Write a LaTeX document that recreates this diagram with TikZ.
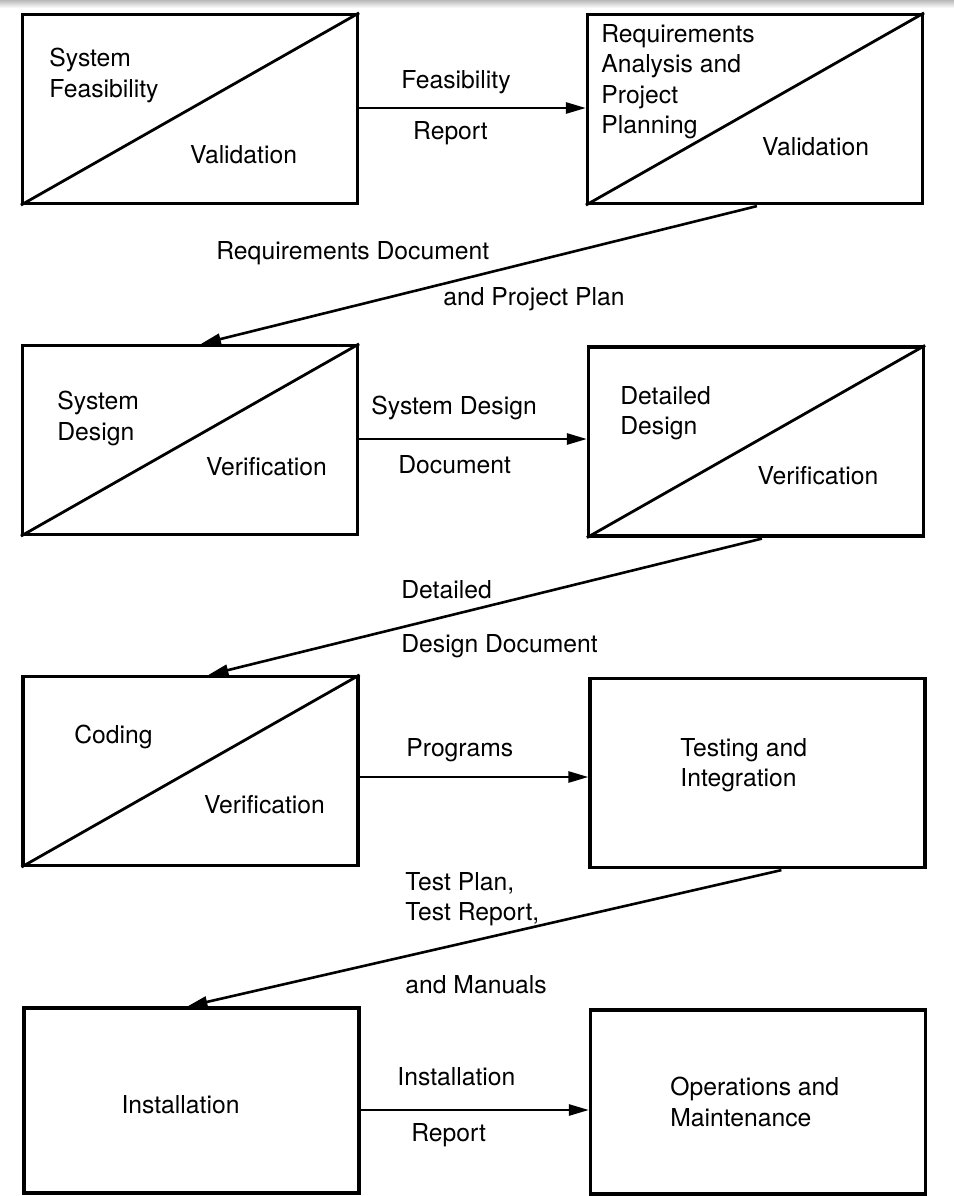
\documentclass[tikz,border=0pt]{standalone}
\usepackage{fontspec}
\setmainfont{TeX Gyre Heros}
\usetikzlibrary{arrows.meta,calc}
\begin{document}
\begin{tikzpicture}[x=0.5pt,y=-0.5pt,
  every node/.style={font=\fontsize{12.35}{15.2}\selectfont, inner sep=0pt},
  phase/.style={draw, line width=1.6pt, inner sep=0pt,
                minimum width=167.5pt, minimum height=94.5pt},
  split/.style={line width=1.4pt},
  flow/.style={line width=1.3pt, -{Triangle[length=10pt,width=5.5pt]}},
  lines/.style={align=left, anchor=north west}]

\useasboundingbox (0,0) rectangle (954,1196);
\shade[top color=gray!55, bottom color=white] (0,0) rectangle (954,8);

% phase boxes
\node[phase] (A) at (190,109)    {};
\node[phase] (B) at (755,109)    {};
\node[phase] (C) at (190,440)    {};
\node[phase] (D) at (756,441.5)  {};
\node[phase] (E) at (190.5,771)  {};
\node[phase] (F) at (757.5,773)  {};
\node[phase, minimum height=92.5pt] (G) at (191.5,1100.5) {};
\node[phase, minimum height=92pt]   (H) at (758,1102)     {};

% diagonal splits: activity above, check below
\foreach \b in {A,B,C,D,E}
  \draw[split] (\b.south west) -- (\b.north east);

% box texts
\node[lines] (a1) at (49,48)   {System\\Feasibility};
\node        (a2) at (243.5,155) {Validation};
\node[lines] (b1) at (601,24)  {Requirements\\Analysis and\\Project\\Planning};
\node        (b2) at (815.5,147) {Validation};
\node[lines] (c1) at (57,391)  {System\\Design};
\node        (c2) at (266.5,467) {Verification};
\node[lines] (d1) at (620,386) {Detailed\\Design};
\node        (d2) at (818,476) {Verification};
\node[anchor=west] (e1) at (74,737) {Coding};
\node        (e2) at (264.5,805) {Verification};
\node[lines] (f1) at (680,738) {Testing and\\Integration};
\node        (g1) at (180.5,1105) {Installation};
\node[lines] (h1) at (670,1077) {Operations and\\Maintenance};

% start points of the horizontal hand-offs
\coordinate (ab) at ($(A.east)+(0,-1)$);
\coordinate (cd) at ($(C.east)+(0,-1)$);
\coordinate (ef) at ($(E.east)+(0,6)$);
\coordinate (gh) at ($(G.east)+(0,9.5)$);

% horizontal hand-offs
\draw[flow] (ab) -- (ab -| B.west);
\draw[flow] (cd) -- (cd -| D.west);
\draw[flow] (ef) -- (ef -| F.west);
\draw[flow] (gh) -- (gh -| H.west);

% diagonal hand-offs to the next row
\draw[flow] ($(B.south west)+(171,1)$) -- ($(C.north west)+(180,0)$);
\draw[flow] ($(D.south west)+(175,1)$) -- ($(E.north west)+(187,0)$);
\draw[flow] ($(F.south west)+(193,1)$) -- ($(G.north west)+(165,0)$);

% documents passed along
\node (ab1) at (456,82)    {Feasibility};
\node (ab2) at (450.5,133) {Report};
\node[anchor=west] (bc1) at (216,253) {Requirements Document};
\node[anchor=west] (bc2) at (443,299) {and Project Plan};
\node[anchor=west] (cd1) at (371,408) {System Design};
\node[anchor=west] (cd2) at (398,465) {Document};
\node[anchor=west] (de1) at (401,590) {Detailed};
\node[anchor=west] (de2) at (401,646) {Design Document};
\node[anchor=west] (ef1) at (406,750) {Programs};
\node[lines]       (fg1) at (405,872) {Test Plan,\\Test Report,};
\node[anchor=west] (fg2) at (405,985) {and Manuals};
\node[anchor=west] (gh1) at (397,1077) {Installation};
\node[anchor=west] (gh2) at (411,1135) {Report};
\end{tikzpicture}
\end{document}
